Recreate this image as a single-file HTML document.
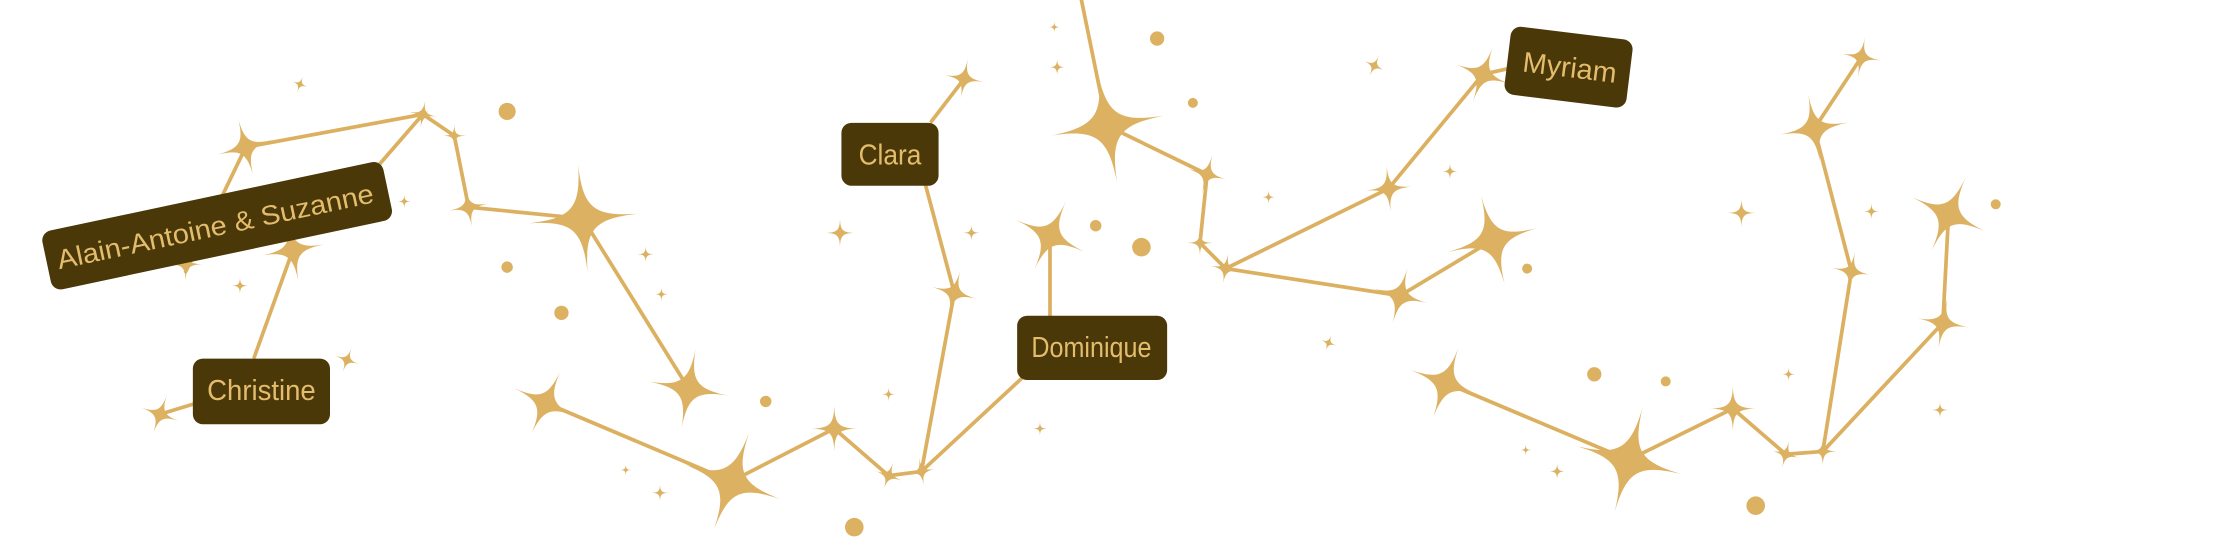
<!DOCTYPE html>
<html><head><meta charset="utf-8"><style>
html,body{margin:0;padding:0;background:#fff;width:2240px;height:560px;overflow:hidden}
svg{display:block}
text{font-family:"Liberation Sans Narrow","Liberation Sans",sans-serif;fill:#e3bd6c}
</style></head><body>
<svg width="2240" height="560" viewBox="0 0 1568 392" xmlns="http://www.w3.org/2000/svg">
<defs>
<path id="st" d="M0,-1 C0.02,-0.2 0.2,-0.02 1,0 C0.2,0.02 0.02,0.2 0,1 C-0.02,0.2 -0.2,0.02 -1,0 C-0.2,-0.02 -0.02,-0.2 0,-1Z"/>
</defs>
<g stroke="#dbb060" stroke-width="2.6" fill="none" stroke-linecap="round">
<polyline points="130,190 172,103 296,80 263,118"/>
<polyline points="296,80 318,95 328,145 408,153 482,272"/>
<polyline points="205,175 178,250"/>
<polyline points="135,283 112,290"/>
<polyline points="382,282 512,337 584,300 622,333 645,330 668,205 648,130"/>
<polyline points="652,85 675,55"/>
<polyline points="645,330 715,265"/>
<polyline points="735,222 735,165"/>
<polyline points="757,0 775,88 845,122 840,170 858,188 972,132 1038,52 1056,48"/>
<polyline points="858,188 980,207 1045,168"/>
<polyline points="1012,268 1140,322 1213,286 1250,318 1276,316 1296,190 1270,90 1303,40"/>
<polyline points="1276,316 1360,226 1364,150"/>
</g>
<g fill="#dcb262">
<use href="#st" transform="translate(172,103) rotate(-15) scale(20)"/>
<use href="#st" transform="translate(296,80) rotate(10) scale(10)"/>
<use href="#st" transform="translate(318,95) scale(8)"/>
<use href="#st" transform="translate(328,145) rotate(-10) scale(14)"/>
<use href="#st" transform="translate(408,153) rotate(-5) scale(38)"/>
<use href="#st" transform="translate(482,272) rotate(10) scale(28)"/>
<use href="#st" transform="translate(382,282) rotate(25) scale(24)"/>
<use href="#st" transform="translate(512,337) rotate(20) scale(36)"/>
<use href="#st" transform="translate(584,300) scale(16)"/>
<use href="#st" transform="translate(622,333) rotate(20) scale(10)"/>
<use href="#st" transform="translate(645,330) rotate(-10) scale(10)"/>
<use href="#st" transform="translate(668,205) rotate(15) scale(16)"/>
<use href="#st" transform="translate(675,55) rotate(10) scale(14)"/>
<use href="#st" transform="translate(735,165) rotate(25) scale(26)"/>
<use href="#st" transform="translate(775,88) rotate(-10) scale(40)"/>
<use href="#st" transform="translate(845,122) rotate(15) scale(14)"/>
<use href="#st" transform="translate(840,170) scale(9)"/>
<use href="#st" transform="translate(858,188) rotate(10) scale(11)"/>
<use href="#st" transform="translate(972,132) rotate(-5) scale(16)"/>
<use href="#st" transform="translate(1038,52) rotate(20) scale(20)"/>
<use href="#st" transform="translate(1045,168) rotate(-15) scale(32)"/>
<use href="#st" transform="translate(980,207) rotate(15) scale(20)"/>
<use href="#st" transform="translate(1012,268) rotate(20) scale(26)"/>
<use href="#st" transform="translate(1140,322) rotate(15) scale(38)"/>
<use href="#st" transform="translate(1213,286) scale(16)"/>
<use href="#st" transform="translate(1250,318) rotate(15) scale(10)"/>
<use href="#st" transform="translate(1276,316) scale(10)"/>
<use href="#st" transform="translate(1296,190) rotate(10) scale(14)"/>
<use href="#st" transform="translate(1270,90) rotate(-10) scale(24)"/>
<use href="#st" transform="translate(1303,40) rotate(10) scale(14)"/>
<use href="#st" transform="translate(1364,150) rotate(25) scale(28)"/>
<use href="#st" transform="translate(1360,226) rotate(10) scale(18)"/>
<use href="#st" transform="translate(112,290) rotate(20) scale(14)"/>
<use href="#st" transform="translate(205,175) rotate(-10) scale(22)"/>
<use href="#st" transform="translate(130,185) scale(12)"/>
<use href="#st" transform="translate(243,252) rotate(20) scale(9)"/>
<use href="#st" transform="translate(210,59) rotate(20) scale(6)"/>
<use href="#st" transform="translate(740,47) scale(6)"/>
<use href="#st" transform="translate(738,19) scale(4)"/>
<use href="#st" transform="translate(962,46) rotate(25) scale(8)"/>
<use href="#st" transform="translate(588,163) scale(10)"/>
<use href="#st" transform="translate(680,163) scale(6)"/>
<use href="#st" transform="translate(1219,149) scale(10)"/>
<use href="#st" transform="translate(1015,120) scale(6)"/>
<use href="#st" transform="translate(888,138) scale(5)"/>
<use href="#st" transform="translate(930,240) rotate(20) scale(6)"/>
<use href="#st" transform="translate(452,178) scale(6)"/>
<use href="#st" transform="translate(463,206) scale(5)"/>
<use href="#st" transform="translate(168,200) scale(6)"/>
<use href="#st" transform="translate(283,141) scale(5)"/>
<use href="#st" transform="translate(622,276) scale(5)"/>
<use href="#st" transform="translate(728,300) scale(5)"/>
<use href="#st" transform="translate(438,329) scale(4)"/>
<use href="#st" transform="translate(462,345) scale(6)"/>
<use href="#st" transform="translate(1310,148) scale(6)"/>
<use href="#st" transform="translate(1252,262) scale(5)"/>
<use href="#st" transform="translate(1358,287) scale(6)"/>
<use href="#st" transform="translate(1068,315) scale(4)"/>
<use href="#st" transform="translate(1090,330) scale(6)"/>
<circle cx="355" cy="78" r="6"/><circle cx="810" cy="27" r="5"/><circle cx="835" cy="72" r="3.5"/>
<circle cx="767" cy="158" r="4"/><circle cx="799" cy="173" r="6.5"/><circle cx="355" cy="187" r="4"/>
<circle cx="393" cy="219" r="5"/><circle cx="536" cy="281" r="4"/><circle cx="598" cy="369" r="6.5"/>
<circle cx="1116" cy="262" r="5"/><circle cx="1166" cy="267" r="3.5"/><circle cx="1229" cy="354" r="6.5"/>
<circle cx="1069" cy="188" r="3.5"/><circle cx="1397" cy="143" r="3.5"/>
</g>
<g fill="#4a3809">
<rect x="-122" y="-21" width="244" height="42" rx="7" transform="translate(152,158) rotate(-12)"/>
<rect x="135" y="251" width="96" height="46" rx="7"/>
<rect x="589" y="86" width="68" height="44" rx="7"/>
<rect x="712" y="221" width="105" height="45" rx="7"/>
<rect x="-43" y="-24" width="86" height="48" rx="7" transform="translate(1098,47) rotate(7)"/>
</g>
<text font-size="19" text-anchor="middle" textLength="226" lengthAdjust="spacingAndGlyphs" transform="translate(152,165) rotate(-12)">Alain-Antoine &amp; Suzanne</text>
<text x="183" y="280" font-size="20" text-anchor="middle" textLength="76" lengthAdjust="spacingAndGlyphs">Christine</text>
<text x="623" y="115" font-size="20" text-anchor="middle" textLength="44" lengthAdjust="spacingAndGlyphs">Clara</text>
<text x="764" y="250" font-size="20" text-anchor="middle" textLength="84" lengthAdjust="spacingAndGlyphs">Dominique</text>
<text font-size="20" text-anchor="middle" textLength="66" lengthAdjust="spacingAndGlyphs" transform="translate(1098,54) rotate(7)">Myriam</text>
</svg>
</body></html>
